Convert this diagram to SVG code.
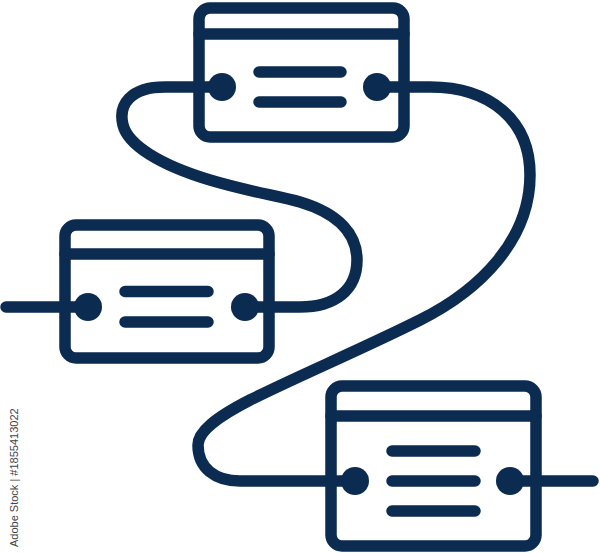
<svg xmlns="http://www.w3.org/2000/svg" width="600" height="553" viewBox="0 0 600 553">
<style>
.s{fill:none;stroke:#0b2b51;stroke-width:11.5;stroke-linecap:round;stroke-linejoin:round}
.d{fill:#0b2b51}
.wm{font-family:"Liberation Sans",Arial,sans-serif;font-size:11px;fill:#444}
</style>
<rect width="600" height="553" fill="#fff"/>
<g id="connectors">
<path class="s" d="M222,87 H165 C130,87 118,105 123,125 C128,145 160,165 210,180 C250,192 280,196 300,202 C340,214 357,235 357,260 C357,290 335,307 300,307 H245"/>
<path class="s" d="M377,87 H430 C490,87 530,120 530,175 C530,240 480,290 420,320 C360,350 300,375 250,400 C215,418 198,432 198,445 C198,468 215,481 240,481 H355"/>
<path class="s" d="M6,307 H88"/>
<path class="s" d="M510,481 H593"/>
</g>
<g id="node-top">
<rect class="s" x="199" y="8" width="205" height="129" rx="11"/>
<path class="s" d="M199,34 H404 M259,72 H341 M259,102 H341"/>
<circle class="d" cx="222" cy="87" r="14"/>
<circle class="d" cx="377" cy="87" r="14"/>
</g>
<g id="node-left">
<rect class="s" x="65" y="225" width="204" height="133" rx="11"/>
<path class="s" d="M65,254 H269 M125,291.5 H208 M125,322 H208"/>
<circle class="d" cx="88" cy="307" r="14"/>
<circle class="d" cx="245" cy="307" r="14"/>
</g>
<g id="node-bottom">
<rect class="s" x="331" y="386" width="205" height="160" rx="11"/>
<path class="s" d="M331,416 H536 M392,451 H475 M392,481 H475 M392,511 H475"/>
<circle class="d" cx="355" cy="481" r="14"/>
<circle class="d" cx="510" cy="481" r="14"/>
</g>
<text class="wm" transform="translate(18,547) rotate(-90)">Adobe Stock | #1855413022</text>
</svg>
